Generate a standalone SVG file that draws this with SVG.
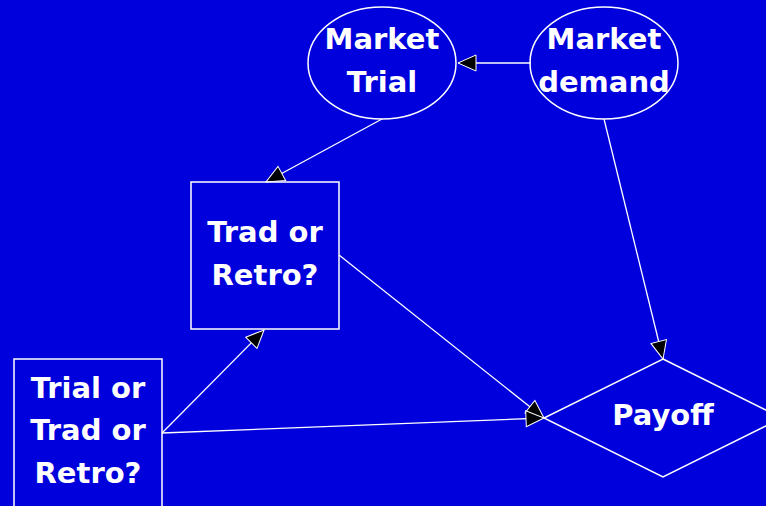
<svg xmlns="http://www.w3.org/2000/svg" width="766" height="506" viewBox="0 0 766 506">
<defs>
<style>
.shape{fill:none;stroke:#ffffff;stroke-width:1.5}
.edge{fill:none;stroke:#ffffff;stroke-width:1.3}
.lbl{font-family:"DejaVu Sans","Liberation Sans",sans-serif;font-weight:bold;font-size:29px;fill:#ffffff;text-anchor:middle}
</style>
<marker id="ah" markerUnits="userSpaceOnUse" markerWidth="22" markerHeight="20" refX="19" refY="9" orient="auto">
<path d="M1,1 L19,9 L1,17 Z" fill="#000000" stroke="#ffffff" stroke-width="1"/>
</marker>
</defs>
<rect x="0" y="0" width="766" height="506" fill="#0000dc"/>
<g id="connectors">
<line class="edge" x1="531" y1="63" x2="458" y2="63" marker-end="url(#ah)"/>
<line class="edge" x1="382" y1="119" x2="266" y2="182" marker-end="url(#ah)"/>
<line class="edge" x1="604" y1="119" x2="663" y2="359" marker-end="url(#ah)"/>
<line class="edge" x1="339" y1="255" x2="544" y2="418" marker-end="url(#ah)"/>
<line class="edge" x1="162" y1="433" x2="264" y2="330" marker-end="url(#ah)"/>
<line class="edge" x1="162" y1="433" x2="544" y2="418" marker-end="url(#ah)"/>
</g>
<g id="market-trial">
<ellipse class="shape" cx="382" cy="63" rx="74" ry="56"/>
<text class="lbl" x="382" y="49">Market</text>
<text class="lbl" x="382" y="92">Trial</text>
</g>
<g id="market-demand">
<ellipse class="shape" cx="604" cy="63" rx="74" ry="56"/>
<text class="lbl" x="604" y="49">Market</text>
<text class="lbl" x="604" y="92">demand</text>
</g>
<g id="trad-or-retro">
<rect class="shape" x="191" y="182" width="148" height="147"/>
<text class="lbl" x="265" y="242">Trad or</text>
<text class="lbl" x="265" y="285">Retro?</text>
</g>
<g id="trial-trad-retro">
<rect class="shape" x="14" y="359" width="148" height="160"/>
<text class="lbl" x="88" y="398">Trial or</text>
<text class="lbl" x="88" y="440">Trad or</text>
<text class="lbl" x="88" y="483">Retro?</text>
</g>
<g id="payoff">
<polygon class="shape" points="663,359 782,418 663,477 544,418"/>
<text class="lbl" x="663" y="425">Payoff</text>
</g>
</svg>
